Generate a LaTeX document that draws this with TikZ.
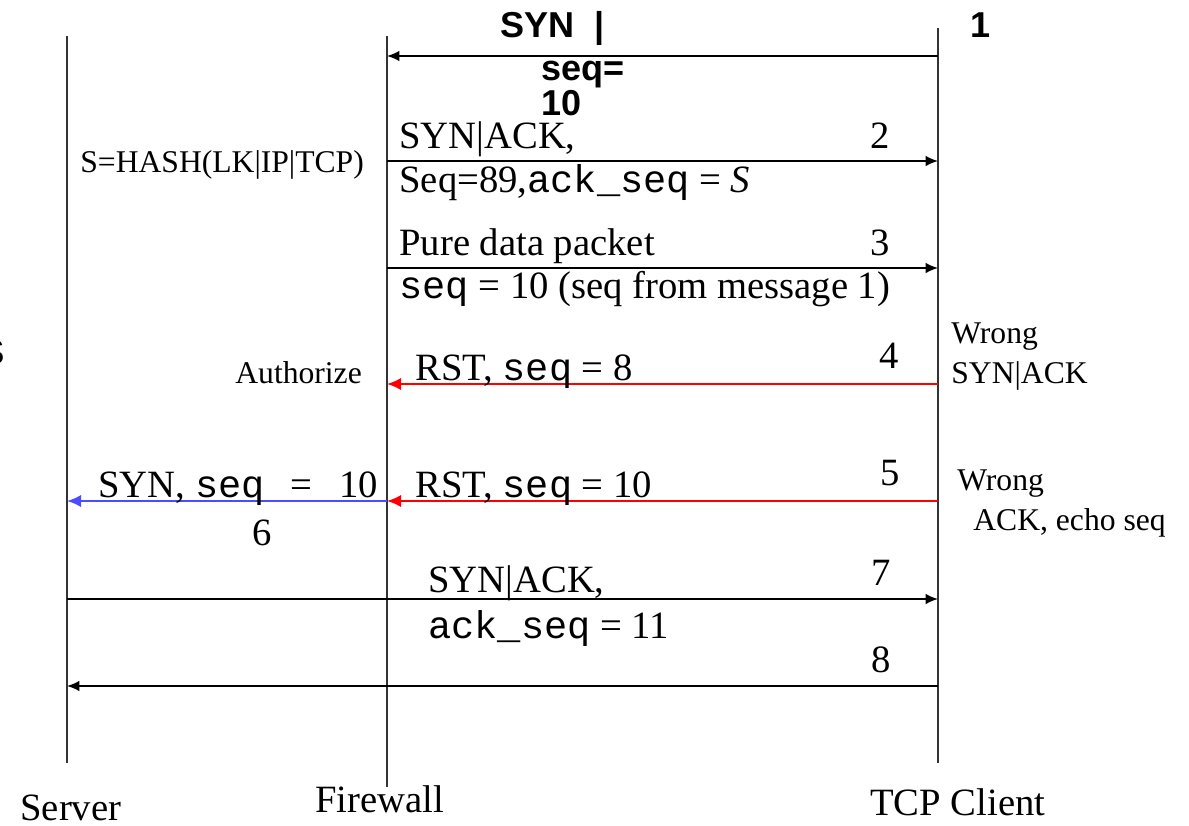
\documentclass[tikz,border=0pt]{standalone}
\usepackage{fontspec}
\setmainfont{Liberation Serif}
\newfontfamily\monof{Liberation Mono}
\newfontfamily\arialf{Liberation Sans}
\usetikzlibrary{arrows.meta}
\begin{document}
\begin{tikzpicture}[x=0.02cm,y=-0.02cm,
  life/.style={line width=1.3pt,draw=black!80},
  msg/.style={line width=1pt,-{Latex[length=7pt,width=6pt]}},
  big/.style={font=\fontsize{22}{24}\selectfont,inner sep=0pt,anchor=base west},
  small/.style={font=\fontsize{18}{20}\selectfont,inner sep=0pt,anchor=base west},
  bold/.style={font=\arialf\bfseries\fontsize{20.5}{22}\selectfont,inner sep=0pt,anchor=base west},
  redmsg/.style={msg,draw=red,-{Latex[length=8pt,width=7pt,color=red]}},
  bluemsg/.style={msg,draw=blue!70,-{Latex[length=8pt,width=7pt,color=blue!70]}}]
\useasboundingbox (0,0) rectangle (1189,825);
% lifelines
\coordinate (sT) at (67,36); \coordinate (sB) at (67,763);
\coordinate (fT) at (387,36); \coordinate (fB) at (387,787);
\coordinate (cT) at (938,28); \coordinate (cB) at (938,763);
\draw[life] (sT) -- (sB);
\draw[life] (fT) -- (fB);
\draw[life] (cT) -- (cB);
% message anchor points
\foreach \n/\y in {1/56,2/161,3/268,4/384,5/501,7/599,8/686}{
  \coordinate (c\n) at (938,\y); \coordinate (f\n) at (387,\y);}
\coordinate (s6) at (67,501); \coordinate (s7) at (67,599); \coordinate (s8) at (67,686);
% messages
\draw[msg] (c1) -- (f1);
\draw[msg] (f2) -- (c2);
\draw[msg] (f3) -- (c3);
\draw[redmsg] (c4) -- (f4);
\draw[redmsg] (c5) -- (f5);
\draw[bluemsg] (f5) -- (s6);
\draw[msg] (s7) -- (c7);
\draw[msg] (c8) -- (s8);
% message 1 labels
\node[bold] (t1a) at (500,37) {SYN~~|};
\node[bold] (t1b) at (541,80) {seq=};
\node[bold] (t1c) at (541,115) {10};
\node[bold] (n1) at (970,37) {1};
% message 2
\node[big] (t2a) at (399,148) {SYN|ACK,};
\node[big] (n2) at (870,148) {2};
\node[big] (t2b) at (399,192) {Seq=89,{\monof ack\_seq} = \textit{S}};
\node[small] (hash) at (80,172) {S=HASH(LK|IP|TCP)};
% message 3
\node[big] (t3a) at (399,255) {Pure data packet};
\node[big] (n3) at (870,255) {3};
\node[big] (t3b) at (399,298) {{\monof seq} = 10 (seq from message 1)};
% message 4
\node[big] (t4) at (415,380) {RST, {\monof seq} = 8};
\node[big] (n4) at (879,368) {4};
\node[small] (auth) at (235,383) {Authorize};
\node[small] (w4a) at (951,343) {Wrong};
\node[small] (w4b) at (951,383) {SYN|ACK};
% message 5
\node[big] (t5) at (415,497) {RST, {\monof seq} = 10};
\node[big] (n5) at (880,485) {5};
\node[small] (w5a) at (957,490) {Wrong};
\node[small] (w5b) at (973,530) {ACK, echo seq};
% message 6
\node[big] (t6) at (98,497) {SYN, {\monof seq}\ \ \hspace{4pt}=\ \ \hspace{4pt}10};
\node[big] (n6) at (252,545) {6};
% message 7
\node[big] (t7a) at (428,592) {SYN|ACK,};
\node[big] (n7) at (871,585) {7};
\node[big] (t7b) at (428,638) {{\monof ack\_seq} = 11};
% message 8
\node[big] (n8) at (871,672) {8};
% lifeline names
\node[big] (srv) at (20,820) {Server};
\node[big] (fw) at (315,812) {Firewall};
\node[big] (cli) at (870,815) {TCP Client};
% cut-off glyph at left edge
\node[font=\arialf\fontsize{20}{22}\selectfont,inner sep=0pt,anchor=base east] (cut) at (5,364) {S};
\end{tikzpicture}
\end{document}
